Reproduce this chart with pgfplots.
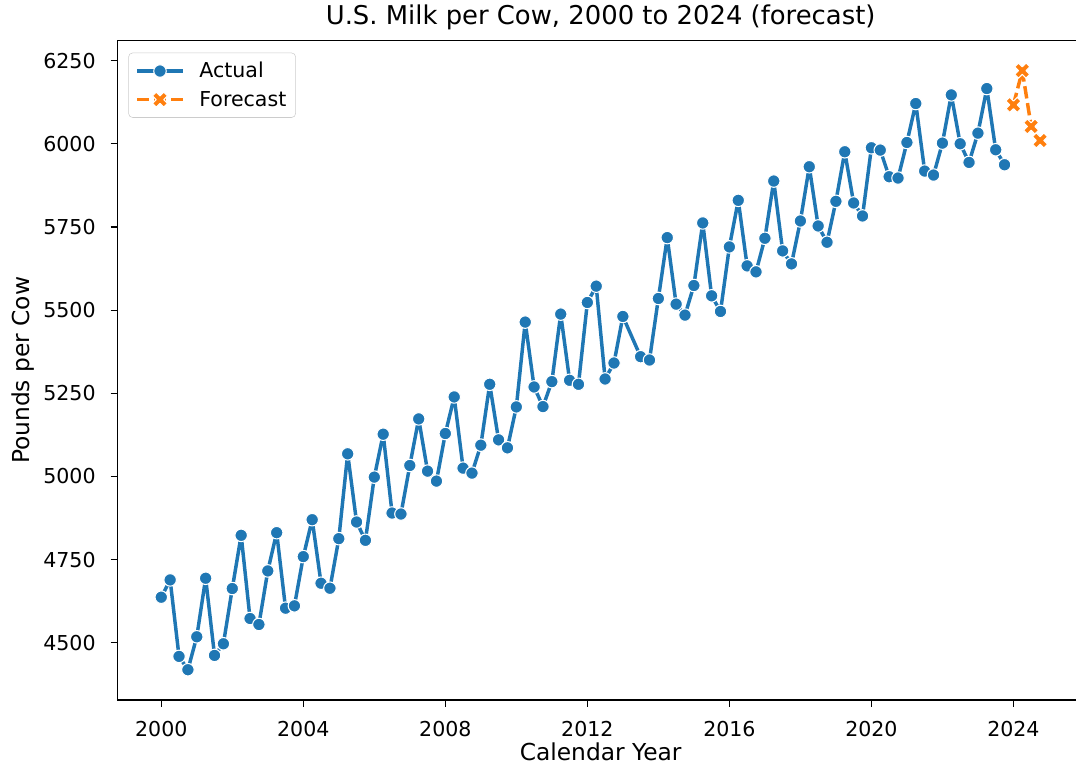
\documentclass[border=0pt]{standalone}
\usepackage{fontspec}
\setmainfont{DejaVu Sans}
\usepackage{pgfplots}
\usepackage{pgfplotstable}
\pgfplotsset{compat=1.18}
\definecolor{sbblue}{HTML}{1F77B4}
\definecolor{sborange}{HTML}{FF7F0E}

\pgfdeclareplotmark{Xfill}{%
  \pgftransformrotate{45}%
  \pgfpathmoveto{\pgfqpoint{-0.3333\pgfplotmarksize}{-\pgfplotmarksize}}%
  \pgfpathlineto{\pgfqpoint{0.3333\pgfplotmarksize}{-\pgfplotmarksize}}%
  \pgfpathlineto{\pgfqpoint{0.3333\pgfplotmarksize}{-0.3333\pgfplotmarksize}}%
  \pgfpathlineto{\pgfqpoint{\pgfplotmarksize}{-0.3333\pgfplotmarksize}}%
  \pgfpathlineto{\pgfqpoint{\pgfplotmarksize}{0.3333\pgfplotmarksize}}%
  \pgfpathlineto{\pgfqpoint{0.3333\pgfplotmarksize}{0.3333\pgfplotmarksize}}%
  \pgfpathlineto{\pgfqpoint{0.3333\pgfplotmarksize}{\pgfplotmarksize}}%
  \pgfpathlineto{\pgfqpoint{-0.3333\pgfplotmarksize}{\pgfplotmarksize}}%
  \pgfpathlineto{\pgfqpoint{-0.3333\pgfplotmarksize}{0.3333\pgfplotmarksize}}%
  \pgfpathlineto{\pgfqpoint{-\pgfplotmarksize}{0.3333\pgfplotmarksize}}%
  \pgfpathlineto{\pgfqpoint{-\pgfplotmarksize}{-0.3333\pgfplotmarksize}}%
  \pgfpathlineto{\pgfqpoint{-0.3333\pgfplotmarksize}{-0.3333\pgfplotmarksize}}%
  \pgfpathclose
  \pgfusepathqfillstroke
}

\pgfplotstableread{
year milk
2000.00 4637
2000.25 4689
2000.50 4459
2000.75 4419
2001.00 4518
2001.25 4694
2001.50 4462
2001.75 4497
2002.00 4663
2002.25 4823
2002.50 4573
2002.75 4555
2003.00 4716
2003.25 4831
2003.50 4604
2003.75 4611
2004.00 4759
2004.25 4870
2004.50 4679
2004.75 4664
2005.00 4813
2005.25 5068
2005.50 4863
2005.75 4808
2006.00 4998
2006.25 5127
2006.50 4890
2006.75 4887
2007.00 5033
2007.25 5173
2007.50 5016
2007.75 4986
2008.00 5129
2008.25 5239
2008.50 5025
2008.75 5010
2009.00 5094
2009.25 5277
2009.50 5110
2009.75 5086
2010.00 5209
2010.25 5464
2010.50 5269
2010.75 5210
2011.00 5285
2011.25 5488
2011.50 5289
2011.75 5277
2012.00 5523
2012.25 5572
2012.50 5293
2012.75 5341
2013.00 5481
2013.50 5360
2013.75 5350
2014.00 5535
2014.25 5718
2014.50 5518
2014.75 5485
2015.00 5574
2015.25 5762
2015.50 5543
2015.75 5496
2016.00 5690
2016.25 5830
2016.50 5633
2016.75 5615
2017.00 5716
2017.25 5888
2017.50 5678
2017.75 5639
2018.00 5768
2018.25 5931
2018.50 5753
2018.75 5704
2019.00 5827
2019.25 5976
2019.50 5822
2019.75 5783
2020.00 5988
2020.25 5981
2020.50 5901
2020.75 5897
2021.00 6004
2021.25 6121
2021.50 5918
2021.75 5906
2022.00 6002
2022.25 6147
2022.50 6000
2022.75 5944
2023.00 6032
2023.25 6166
2023.50 5982
2023.75 5937
}\actualdata

\pgfplotstableread{
year milk
2024.00 6117
2024.25 6220
2024.50 6052
2024.75 6010
}\forecastdata

\begin{document}
\begin{tikzpicture}
\begin{axis}[
  scale only axis,
  width=725pt, height=494.5pt,
  xmin=1998.7625, xmax=2025.9875,
  ymin=4328, ymax=6310,
  xtick={2000,2004,2008,2012,2016,2020,2024},
  ytick={4500,4750,5000,5250,5500,5750,6000,6250},
  scaled ticks=false,
  /pgf/number format/assume math mode=true,
  /pgf/number format/1000 sep={},
  xtick pos=bottom, ytick pos=left,
  tick align=outside,
  major tick length=5pt,
  tick style={black, line width=0.9pt},
  axis line style={black, line width=0.9pt},
  tick label style={font=\fontsize{15.4}{18}\selectfont, black},
  xticklabel style={anchor=base, inner sep=0pt, yshift=-22.75pt},
  yticklabel style={anchor=east, inner sep=0pt, xshift=-11.1pt},
  title={U.S. Milk per Cow, 2000 to 2024 (forecast)},
  title style={at={(axis description cs:0.5,1.0117)}, anchor=base, inner sep=0pt, font=\fontsize{19.4}{23}\selectfont},
  xlabel={Calendar Year},
  xlabel style={at={(axis description cs:0.5,-0.0925)}, anchor=base, inner sep=0pt, font=\fontsize{17.5}{21}\selectfont},
  ylabel={Pounds per Cow},
  ylabel style={at={(axis description cs:-0.0913,0.5)}, rotate=0, anchor=base, inner sep=0pt, font=\fontsize{17.5}{21}\selectfont},
  legend cell align=left,
  legend style={at={(axis description cs:0.01138,0.9818)}, anchor=north west,
    draw=black!20, rounded corners=3pt, fill=white,
    font=\fontsize{15.4}{18}\selectfont,
    inner xsep=5pt, inner ysep=5pt, row sep=4.5pt},
  legend image code/.code={%
    \draw[mark repeat=2,mark phase=2] plot coordinates {(0pt,0pt) (17.25pt,0pt) (34.5pt,0pt)};
    \path (43.5pt,0pt);},
]
\addplot[sbblue, line width=2.6pt, line join=round, mark=*, mark size=4.7pt,
  mark options={solid, fill=sbblue, draw=white, line width=0.8pt}]
  table[x=year, y=milk] {\actualdata};
\addlegendentry{Actual}
\addplot[sborange, line width=2.6pt, line join=round, dash pattern=on 9.3pt off 3.5pt, mark=Xfill, mark size=6pt,
  mark options={solid, fill=sborange, draw=white, line width=0.8pt}]
  table[x=year, y=milk] {\forecastdata};
\addlegendentry{Forecast}
\end{axis}
\pgfresetboundingbox
\useasboundingbox ([shift={(-88pt,-50.25pt)}]current axis.south west) rectangle ([shift={(719pt,30.5pt)}]current axis.north west);
\end{tikzpicture}
\end{document}
